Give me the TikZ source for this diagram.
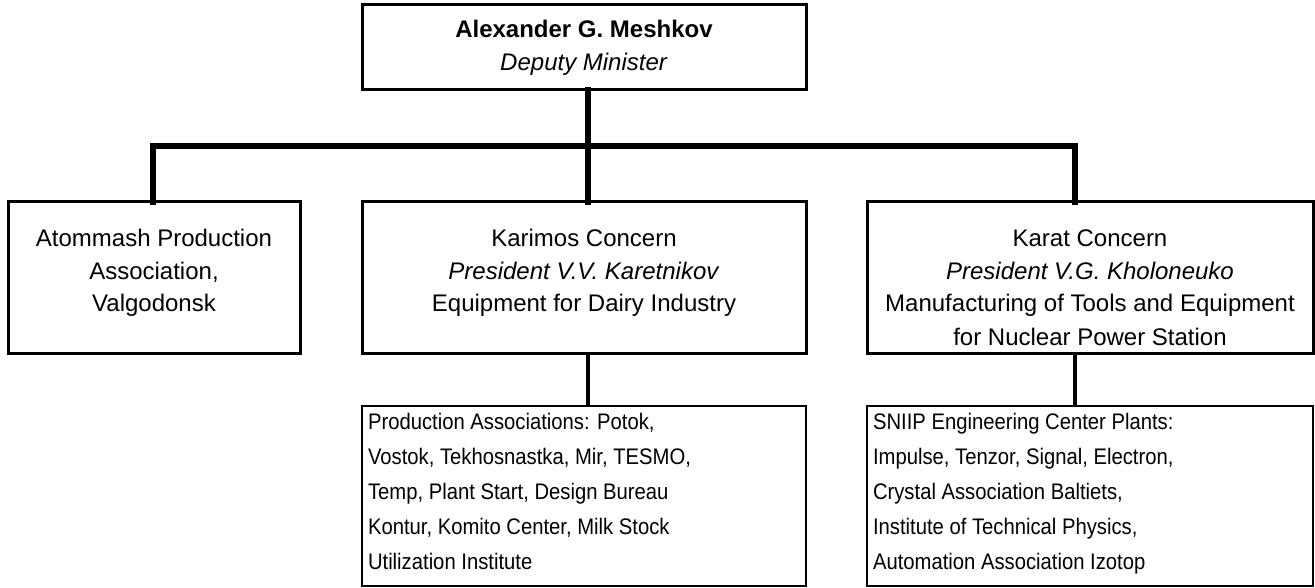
\documentclass[tikz,border=0pt]{standalone}
\usepackage{fontspec}
\setmainfont{Liberation Sans}
\newfontfamily\narrowsans[FakeStretch=0.9]{Liberation Sans}
\begin{document}
\begin{tikzpicture}[x=1pt,y=-1pt,
  box/.style={draw, line width=3pt, inner sep=0pt, outer sep=0pt},
  lowbox/.style={draw, line width=2.5pt, inner sep=0pt, outer sep=0pt},
  conn/.style={line width=6pt, line join=miter, line cap=rect},
  conntwo/.style={line width=4.5pt}
]
\useasboundingbox (0,0) rectangle (1315,588);
\newcommand{\midtext}{\fontsize{24}{33}\selectfont}
\newcommand{\lowtext}{\narrowsans\fontsize{22.5}{35}\selectfont}

\node[box] (top) at (584,47.5) {\parbox[c][85pt][c]{444pt}{\midtext\centering
  \textbf{Alexander G. Meshkov}\\ \textit{Deputy Minister}}};

\node[box] (atom) at (154,277.5) {\parbox[c][151pt][t]{292pt}{\midtext\centering
  \rule{0pt}{44pt}Atommash Production\\ Association,\\ Valgodonsk}};

\node[box] (kar) at (584,277.5) {\parbox[c][151pt][t]{444pt}{\midtext\centering
  \rule{0pt}{44pt}Karimos Concern\\ \textit{President V.V. Karetnikov}\\ Equipment for Dairy Industry}};

\node[box] (karat) at (1090,277.5) {\parbox[c][151pt][t]{446pt}{\midtext\centering
  \rule{0pt}{44pt}Karat Concern\\ \textit{President V.G. Kholoneuko}\\ Manufacturing of Tools and Equipment\\ for Nuclear Power Station}};

\node[lowbox] (prod) at (584,496) {\parbox[c][180pt][t]{444pt}{\lowtext\raggedright\leftskip=6pt
  \rule{0pt}{23pt}Production Associations: Potok,\\ Vostok, Tekhosnastka, Mir, TESMO,\\ Temp, Plant Start, Design Bureau\\ Kontur, Komito Center, Milk Stock\\ Utilization Institute}};

\node[lowbox] (sniip) at (1090,496) {\parbox[c][180pt][t]{446pt}{\lowtext\raggedright\leftskip=6pt
  \rule{0pt}{23pt}SNIIP Engineering Center Plants:\\ Impulse, Tenzor, Signal, Electron,\\ Crystal Association Baltiets,\\ Institute of Technical Physics,\\ Automation Association Izotop}};

\coordinate (busL) at (153,146);
\coordinate (busM) at (588,146);
\coordinate (busR) at (1075,146);

\draw[conn] (top.south -| busM) -- (busM);
\draw[conn] (busL |- atom.north) -- (busL) -- (busR) -- (busR |- karat.north);
\draw[conn] (busM) -- (busM |- kar.north);
\draw[conntwo] (kar.south -| busM) -- (prod.north -| busM);
\draw[conntwo] (karat.south -| busR) -- (sniip.north -| busR);
\end{tikzpicture}
\end{document}
